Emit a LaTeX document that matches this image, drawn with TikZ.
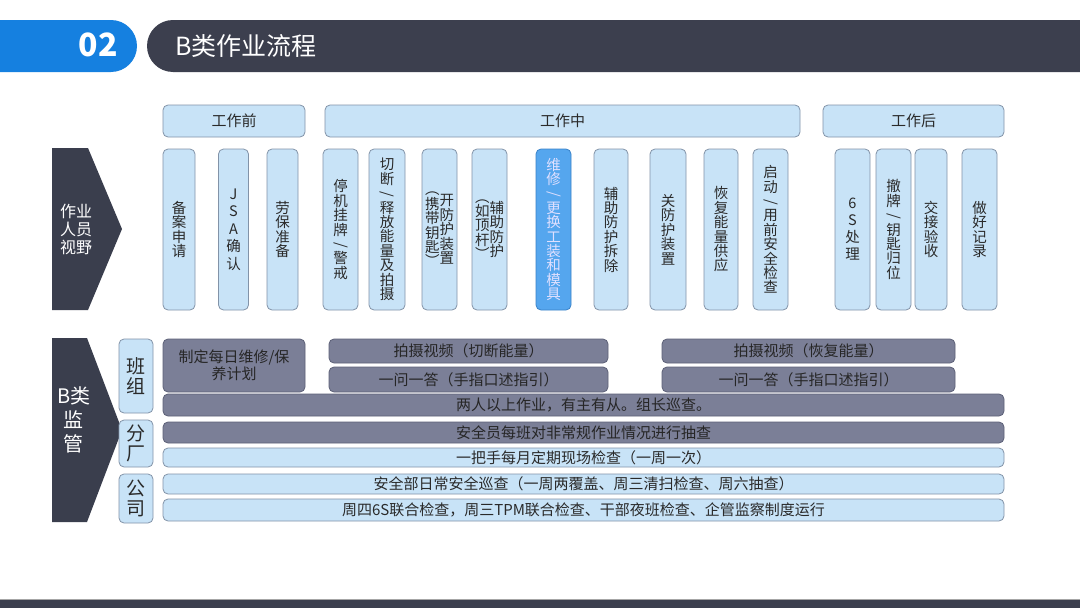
\documentclass[tikz,border=0pt]{standalone}
\usepackage{fontspec}
\setmainfont{Noto Sans CJK SC}
\newfontfamily\cjk{Noto Sans CJK SC}
\usepackage{graphicx}
\definecolor{hdrblue}{HTML}{1580E0}
\definecolor{hdrdark}{HTML}{3C3F4E}
\definecolor{pent}{HTML}{3A3E4D}
\definecolor{lfill}{HTML}{C8E3F7}
\definecolor{lline}{HTML}{8293A8}
\definecolor{dfill}{HTML}{7B7F97}
\definecolor{dline}{HTML}{5C6077}
\definecolor{hfill}{HTML}{55A6EE}
\definecolor{hline}{HTML}{3A82C8}
\definecolor{txt}{HTML}{2A2A2A}
\newlength\vpitch
\setlength\vpitch{14.4pt}
\newcommand{\vcol}[1]{$\vcenter{\lineskiplimit=-\maxdimen\baselineskip=\vpitch\let\\\cr\halign{\hfil##\hfil\cr#1\crcr}}$}
\newcommand{\vsl}{\rotatebox[origin=c]{-90}{/}}
\tikzset{
  boxbase/.style={draw, rounded corners=5pt, line width=0.8pt, inner sep=0pt, text=txt},
  lbox/.style={boxbase, fill=lfill, draw=lline},
  dbox/.style={boxbase, fill=dfill, draw=dline, text=black!85},
  hbox/.style={boxbase, fill=hfill, draw=hline, text=white!88!blue},
  colbox/.style={lbox, minimum height=161pt, font=\fontsize{14.5}{14.5}\selectfont},
  phase/.style={lbox, minimum height=32pt, font=\fontsize{15}{16}\selectfont},
  rowbox/.style={font=\fontsize{15}{16}\selectfont},
  side/.style={lbox, minimum width=34pt, font=\fontsize{19}{22}\selectfont\setlength\vpitch{20.5pt}},
}
\begin{document}
\begin{tikzpicture}[x=1pt,y=-1pt]
\useasboundingbox (0,0) rectangle (1080,608);
\clip (0,0) rectangle (1080,608);
\fill[white] (0,0) rectangle (1080,608);
% header
\fill[hdrblue, rounded corners=26pt] (-40,20) rectangle (137,72);
\fill[hdrdark, rounded corners=26pt] (147,20) rectangle (1130,72);
\node[text=white, font=\fontsize{32}{34}\selectfont\bfseries] (num) at (98,45) {02};
\node[text=white, anchor=west, font=\fontsize{25}{28}\selectfont] (title) at (172,46) {B类作业流程};
% bottom bar
\fill[hdrdark] (0,599) rectangle (1080,608);
\draw[gray!70, line width=0.6pt] (0,599) -- (1080,599);
% pentagons
\fill[pent] (52,148) -- (88,148) -- (122,229) -- (88,310) -- (52,310) -- cycle;
\node[text=white, font=\fontsize{16}{18}\selectfont, align=center] (view) at (76,229) {作业\\人员\\视野};
\fill[pent] (52,338) -- (87,338) -- (122,430) -- (87,522) -- (52,522) -- cycle;
\node[text=white, font=\fontsize{20}{24}\selectfont, align=center] (sup) at (74,420) {B类\\监\\管};
% phases
\node[phase, minimum width=142pt] (pre) at (234,121) {工作前};
\node[phase, minimum width=475pt] (mid) at (562.5,121) {工作中};
\node[phase, minimum width=181pt] (post) at (913.5,121) {工作后};
% columns
\node[colbox, minimum width=32pt] (c1) at (179,229.5) {\vcol{备\\案\\申\\请}};
\node[colbox, minimum width=30pt] (c2) at (233.5,229.5) {\setlength\vpitch{17.5pt}\vcol{J\\S\\A\\确\\认}};
\node[colbox, minimum width=31pt] (c3) at (282.5,229.5) {\vcol{劳\\保\\准\\备}};
\node[colbox, minimum width=35pt] (c4) at (340.5,229.5) {\vcol{停\\机\\挂\\牌\\\vsl\\警\\戒}};
\node[colbox, minimum width=36pt] (c5) at (387,229.5) {\vcol{切\\断\\\vsl\\释\\放\\能\\量\\及\\拍\\摄}};
\node[colbox, minimum width=35pt] (c6) at (439.5,229.5) {\vcol{︵\\携\\带\\钥\\匙\\︶}\vcol{开\\防\\护\\装\\置}};
\node[colbox, minimum width=35pt] (c7) at (489.5,229.5) {\vcol{︵\\如\\顶\\杆\\︶}\vcol{辅\\助\\防\\护}};
\node[colbox, hbox, minimum width=35pt] (c8) at (553.5,229.5) {\vcol{维\\修\\\vsl\\更\\换\\工\\装\\和\\模\\具}};
\node[colbox, minimum width=34pt] (c9) at (611,229.5) {\vcol{辅\\助\\防\\护\\拆\\除}};
\node[colbox, minimum width=36pt] (c10) at (668,229.5) {\vcol{关\\防\\护\\装\\置}};
\node[colbox, minimum width=34pt] (c11) at (721,229.5) {\vcol{恢\\复\\能\\量\\供\\应}};
\node[colbox, minimum width=35pt] (c12) at (770.5,229.5) {\vcol{启\\动\\\vsl\\用\\前\\安\\全\\检\\查}};
\node[colbox, minimum width=35pt] (c13) at (852.5,229.5) {\setlength\vpitch{17pt}\vcol{6\\S\\处\\理}};
\node[colbox, minimum width=35pt] (c14) at (893.5,229.5) {\vcol{撤\\牌\\\vsl\\钥\\匙\\归\\位}};
\node[colbox, minimum width=32pt] (c15) at (931,229.5) {\vcol{交\\接\\验\\收}};
\node[colbox, minimum width=35pt] (c16) at (979.5,229.5) {\vcol{做\\好\\记\\录}};
% side labels
\node[side, minimum height=74pt] (banzu) at (136,376) {\vcol{班\\组}};
\node[side, minimum height=47pt] (fenchang) at (136,443.5) {\vcol{分\\厂}};
\node[side, minimum height=49pt] (gongsi) at (136,498.5) {\vcol{公\\司}};
% rows
\node[dbox, minimum width=142pt, minimum height=53pt, align=center, font=\fontsize{15}{17}\selectfont] (plan) at (234,365.5) {制定每日维修/保\\养计划};
\node[dbox, rowbox, minimum width=279pt, minimum height=24pt] (v1) at (468.5,351) {拍摄视频（切断能量）};
\node[dbox, rowbox, minimum width=293pt, minimum height=24pt] (v2) at (808.5,351) {拍摄视频（恢复能量）};
\node[dbox, rowbox, minimum width=279pt, minimum height=25pt] (q1) at (468.5,379.5) {一问一答（手指口述指引）};
\node[dbox, rowbox, minimum width=293pt, minimum height=25pt] (q2) at (808.5,379.5) {一问一答（手指口述指引）};
\node[dbox, rowbox, minimum width=841pt, minimum height=22pt] (r1) at (583.5,405) {两人以上作业，有主有从。组长巡查。};
\node[dbox, rowbox, minimum width=841pt, minimum height=21pt] (r2) at (583.5,432.5) {安全员每班对非常规作业情况进行抽查};
\node[lbox, rowbox, minimum width=841pt, minimum height=19pt] (r3) at (583.5,457.5) {一把手每月定期现场检查（一周一次）};
\node[lbox, rowbox, minimum width=841pt, minimum height=20pt] (r4) at (583.5,484) {安全部日常安全巡查（一周两覆盖、周三清扫检查、周六抽查）};
\node[lbox, rowbox, minimum width=841pt, minimum height=22pt] (r5) at (583.5,510) {周四6S联合检查，周三TPM联合检查、干部夜班检查、企管监察制度运行};
\end{tikzpicture}
\end{document}
